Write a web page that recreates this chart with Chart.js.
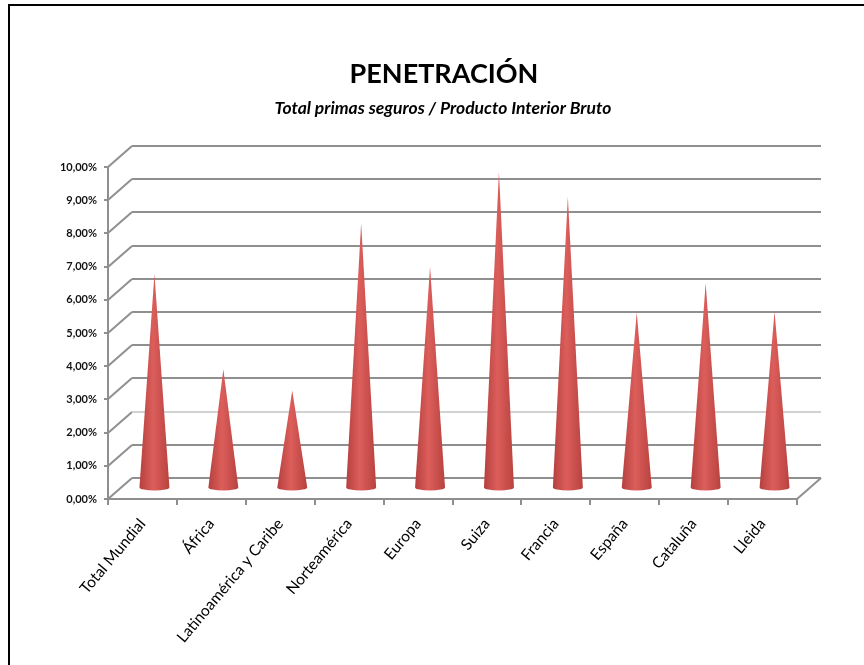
<!DOCTYPE html>
<html><head><meta charset="utf-8">
<script src="https://cdn.jsdelivr.net/npm/chart.js@4.4.0/dist/chart.umd.min.js"></script>
<style>html,body{margin:0;padding:0;background:#fff;} canvas{display:block;}</style>
</head><body>
<canvas id="c" width="864" height="665"></canvas>
<script>
const categories = ['Total Mundial','África','Latinoamérica y Caribe','Norteamérica','Europa','Suiza','Francia','España','Cataluña','Lleida'];
const penetration = [6.46, 3.59, 2.95, 7.99, 6.68, 9.54, 8.79, 5.30, 6.18, 5.33];
const yTicks = [0,1,2,3,4,5,6,7,8,9,10];
const titleText = 'PENETRACIÓN';
const subtitleText = 'Total primas seguros / Producto Interior Bruto';

const DEPTH_X = 24, DEPTH_Y = 21;
const GRID = '#8f8f8f';
const FONT = 'Lato';

const framePlugin = {
  id: 'frame',
  beforeDraw(chart) {
    const ctx = chart.ctx;
    ctx.save();
    ctx.fillStyle = '#fff';
    ctx.fillRect(0, 0, chart.width, chart.height);
    ctx.fillStyle = '#000';
    ctx.fillRect(8, 4, 2, chart.height - 4);
    ctx.fillRect(8, 4, chart.width - 8, 2);
    ctx.textAlign = 'center';
    ctx.textBaseline = 'alphabetic';
    ctx.font = 'bold 27px ' + FONT;
    ctx.fillText(titleText, 444, 83);
    ctx.font = 'italic bold 17.5px ' + FONT;
    ctx.fillText(subtitleText, 443, 114);
    ctx.restore();
  }
};

const wallPlugin = {
  id: 'wall',
  beforeDatasetsDraw(chart) {
    const {ctx, chartArea: a, scales: {y}} = chart;
    ctx.save();
    ctx.lineWidth = 2;
    yTicks.forEach(v => {
      const py = Math.round(y.getPixelForValue(v));
      ctx.strokeStyle = GRID;
      ctx.beginPath();
      ctx.moveTo(a.left, py);
      ctx.lineTo(a.left + DEPTH_X, py - DEPTH_Y);
      ctx.stroke();
      ctx.strokeStyle = v === 2 ? '#d2d2d2' : GRID;
      ctx.beginPath();
      ctx.moveTo(a.left + DEPTH_X, py - DEPTH_Y);
      ctx.lineTo(a.right + DEPTH_X, py - DEPTH_Y);
      ctx.stroke();
    });
    const p0 = Math.round(y.getPixelForValue(0));
    ctx.strokeStyle = GRID;
    ctx.beginPath();
    ctx.moveTo(a.right, p0);
    ctx.lineTo(a.right + DEPTH_X, p0 - DEPTH_Y);
    ctx.stroke();
    ctx.restore();
  }
};

const conePlugin = {
  id: 'cones',
  afterDatasetsDraw(chart) {
    const ctx = chart.ctx;
    const meta = chart.getDatasetMeta(0);
    ctx.save();
    meta.data.forEach(el => {
      const {x, y, base, width} = el.getProps(['x','y','base','width'], true);
      const cx = x + DEPTH_X / 2, by = base - DEPTH_Y / 2, ty = y - DEPTH_Y / 2;
      const r = width / 2, eh = r * 0.2;
      const g = ctx.createLinearGradient(cx - r, 0, cx + r, 0);
      g.addColorStop(0, '#b5403e');
      g.addColorStop(0.45, '#dc5e5b');
      g.addColorStop(1, '#b8423f');
      ctx.beginPath();
      ctx.moveTo(cx, ty);
      ctx.lineTo(cx + r, by);
      ctx.ellipse(cx, by, r, eh, 0, 0, Math.PI);
      ctx.closePath();
      ctx.fillStyle = g;
      ctx.fill();
    });
    ctx.restore();
  }
};

new Chart(document.getElementById('c'), {
  type: 'bar',
  data: {
    labels: categories,
    datasets: [{
      data: penetration,
      backgroundColor: 'rgba(0,0,0,0)',
      borderWidth: 0,
      barPercentage: 1,
      categoryPercentage: 0.435
    }]
  },
  options: {
    responsive: false,
    animation: false,
    devicePixelRatio: 1,
    layout: { padding: { left: 0, top: 167, right: 67, bottom: 0 } },
    plugins: { legend: { display: false }, tooltip: { enabled: false }, title: { display: false } },
    scales: {
      x: {
        offset: true,
        grid: { display: true, drawOnChartArea: false, drawTicks: true, tickLength: 6, color: GRID, lineWidth: 2, offset: true },
        border: { display: true, color: GRID, width: 2 },
        ticks: { maxRotation: 50, minRotation: 50, autoSkip: false, color: '#000', font: { family: FONT, size: 15.5 }, padding: 10 },
        afterFit(s) { s.height = 166; }
      },
      y: {
        min: 0, max: 10,
        grid: { display: true, drawOnChartArea: false, drawTicks: true, tickLength: 4, color: GRID, lineWidth: 2 },
        border: { display: true, color: GRID, width: 2 },
        ticks: {
          stepSize: 1, color: '#111', padding: 7,
          font: { family: FONT, size: 11, weight: 'bold' },
          callback: v => v.toFixed(2).replace('.', ',') + '%'
        },
        afterFit(s) { s.width = 108; }
      }
    }
  },
  plugins: [framePlugin, wallPlugin, conePlugin]
});
</script>
</body></html>
